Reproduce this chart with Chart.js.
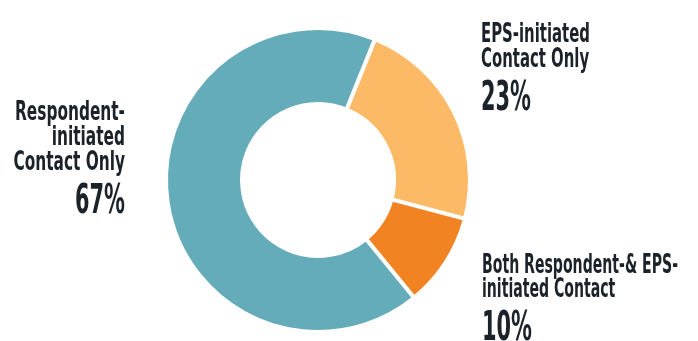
<!DOCTYPE html>
<html>
<head>
<meta charset="utf-8">
<script src="https://cdn.jsdelivr.net/npm/chart.js@4.4.1/dist/chart.umd.min.js"></script>
<style>
  html, body { margin: 0; padding: 0; background: #fff; }
  #wrap { width: 698px; height: 341px; position: relative; }
</style>
</head>
<body>
<div id="wrap"><canvas id="contact-chart"></canvas></div>
<script>
  // slices, clockwise from the top-right
  var categories = ["EPS-initiated Contact Only", "Both Respondent-& EPS-initiated Contact", "Respondent-initiated Contact Only"];
  var labelLines = [["EPS-initiated", "Contact Only"], ["Both Respondent-& EPS-", "initiated Contact"], ["Respondent-", "initiated", "Contact Only"]];
  var shares = [23, 10, 67];
  var sliceColors = ["#fcb966", "#f18323", "#64acba"];

  // first baseline, alignment, line gap and width of the first line for each text block
  var labelSpots = [
    { x: 481, y: 42, align: "left", gap: 25, firstWidth: 109 },
    { x: 482, y: 273, align: "left", gap: 24, firstWidth: 196 },
    { x: 125, y: 120, align: "right", gap: 25, firstWidth: 110 }
  ];

  var FONT = '"DejaVu Sans Condensed", "DejaVu Sans", sans-serif';
  var LINE_SIZE = 26, PCT_SIZE = 41, PCT_WIDTH = 50;

  var squeezeFor = function(ctx, text, size, width) {
    ctx.save();
    ctx.font = "bold " + size + "px " + FONT;
    var w = ctx.measureText(text).width;
    ctx.restore();
    return width / w;
  };

  var drawText = function(ctx, text, x, y, align, size, squeeze) {
    ctx.save();
    ctx.translate(x, y);
    ctx.scale(squeeze, 1);
    ctx.font = "bold " + size + "px " + FONT;
    ctx.textAlign = align;
    ctx.textBaseline = "alphabetic";
    ctx.fillStyle = "#1c2229";
    ctx.fillText(text, 0, 0);
    ctx.restore();
  };

  var sliceLabels = {
    id: "sliceLabels",
    afterDraw: function(chart) {
      var ctx = chart.ctx;
      var sqPct = squeezeFor(ctx, shares[0] + "%", PCT_SIZE, PCT_WIDTH);
      labelSpots.forEach(function(spot, i) {
        var sq = squeezeFor(ctx, labelLines[i][0], LINE_SIZE, spot.firstWidth);
        var y = spot.y;
        labelLines[i].forEach(function(line, j) {
          if (j > 0) y += spot.gap;
          drawText(ctx, line, spot.x, y, spot.align, LINE_SIZE, sq);
        });
        drawText(ctx, shares[i] + "%", spot.x, y + 43, spot.align, PCT_SIZE, sqPct);
      });
    }
  };

  window.onload = function() {
    new Chart(document.getElementById("contact-chart"), {
      type: "doughnut",
      data: {
        labels: categories,
        datasets: [{
          data: shares,
          backgroundColor: sliceColors,
          borderColor: "#ffffff",
          borderWidth: 4,
          hoverOffset: 0
        }]
      },
      options: {
        responsive: true,
        maintainAspectRatio: false,
        animation: false,
        rotation: 22,
        cutout: "50%",
        layout: { padding: { left: 164, right: 226, top: 26, bottom: 7 } },
        plugins: {
          legend: { display: false },
          tooltip: { enabled: false }
        }
      },
      plugins: [sliceLabels]
    });
  };
</script>
</body>
</html>
